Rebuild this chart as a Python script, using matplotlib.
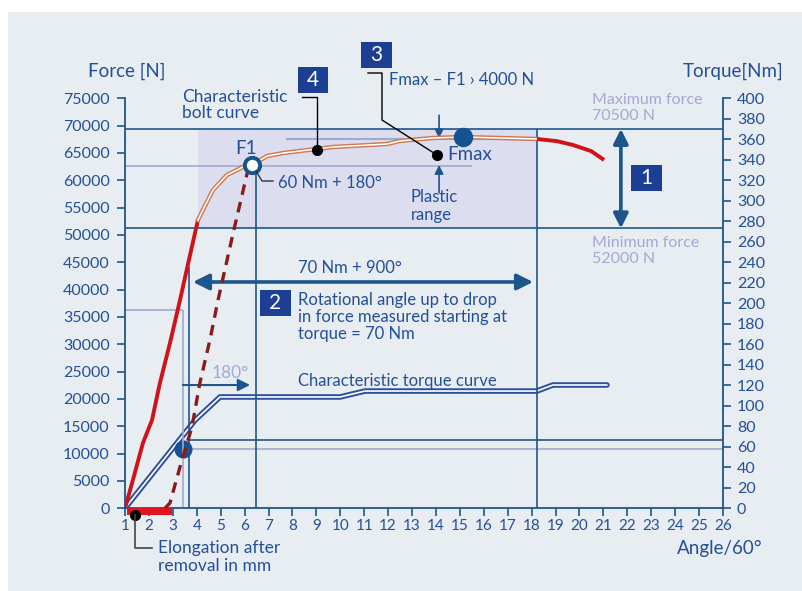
import matplotlib
matplotlib.use("Agg")
import matplotlib.pyplot as plt
from matplotlib.patches import Rectangle
from matplotlib.lines import Line2D
from matplotlib.transforms import Affine2D

W, H = 803, 591

# bolt force curve (angle in units of 60 deg, force in N)
bolt_angle = [1.0, 1.33, 1.75, 2.13, 2.46, 2.88, 3.30, 3.72, 4.05, 4.26, 4.68, 5.26, 5.93,
              6.31, 6.94, 7.61, 9.70, 11.95, 12.5, 13.88, 15.13, 18.22, 19.06, 19.73, 20.48, 21.03]
bolt_force = [0, 5180, 11950, 16150, 22920, 30230, 38100, 46360, 52730, 54600, 58220, 60960, 62430,
              62800, 64440, 64990, 66090, 66640, 67200, 67740, 67920, 67560, 67160, 66460, 65360, 63720]
elastic_end = 8      # index where the red part ends
plastic_end = 21     # index where the drop starts

# dashed re-loading curve up to F1
dash_angle = [2.67, 2.88, 3.38, 3.80, 4.13, 4.55, 4.89, 5.52, 6.14, 6.31]
dash_force = [0, 970, 8830, 14870, 22920, 30780, 38100, 50350, 61880, 62800]

# characteristic torque curve
torque_angle = [1, 3.93, 4.97, 9.99, 11.03, 18.22, 18.89, 21.15]
torque_nm = [0, 86, 108.6, 108.6, 114.4, 114.4, 120.3, 120.3]

force_max_line = 69400
force_min_line = 51200
f1 = (6.31, 62800)
fmax = (15.13, 67920)
angle_drop = 18.22
angle_70nm = 3.68
angle_60nm = 3.42
torque_70 = 67
torque_60 = 57.6

x_ticks = list(range(1, 27))
force_ticks = list(range(0, 75001, 5000))
torque_ticks = list(range(0, 401, 20))

BLUE = "#234f9b"
LINE = "#1d568c"
BOX = "#1c3f94"
LAV = "#a3a8d6"
GREY = "#9eabcf"
RED = "#d0121b"
DRED = "#8a1b1b"
BG = "#e8edf2"

plt.rcParams["font.family"] = ["Lato", "DejaVu Sans"]

fig = plt.figure(figsize=(W / 100, H / 100), dpi=100)
fig.patch.set_facecolor("white")
PX = Affine2D().scale(1, -1).translate(0, H)   # reference pixel coords -> display
fig.patches.append(Rectangle((8, 12), W - 8, H - 12, transform=PX, facecolor=BG,
                             edgecolor="none", zorder=-10))

ax = fig.add_axes([125 / W, 1 - 508.3 / H, 598 / W, 410 / H])
ax2 = ax.twinx()
ax.set_zorder(ax2.get_zorder() + 1)
ax.patch.set_visible(False)
ax2.patch.set_visible(False)

ax.set_xlim(1, 26)
ax.set_ylim(0, 75000)
ax2.set_ylim(0, 400)

for a in (ax, ax2):
    for s in a.spines.values():
        s.set_color(LINE)
        s.set_linewidth(1.3)
    a.spines["top"].set_visible(False)
ax.spines["right"].set_visible(False)
ax2.spines["left"].set_visible(False)
ax2.spines["bottom"].set_visible(False)

ax.set_xticks(x_ticks)
ax.set_yticks(force_ticks)
ax2.set_yticks(torque_ticks)
ax.tick_params(axis="x", colors=LINE, labelcolor=BLUE, labelsize=11, length=6, width=1.2, pad=2)
ax.tick_params(axis="y", colors=LINE, labelcolor=BLUE, labelsize=11.5, length=6, width=1.2, pad=5)
ax2.tick_params(axis="y", colors=LINE, labelcolor=BLUE, labelsize=11.5, length=6, width=1.2, pad=4)

# shaded plastic region and reference lines
ax.add_patch(Rectangle((bolt_angle[elastic_end], force_min_line), angle_drop - bolt_angle[elastic_end],
                       force_max_line - force_min_line, facecolor="#dcdeef", edgecolor="none", zorder=0))
ax.hlines([force_max_line, force_min_line], 1, 26, color=LINE, lw=1.2, zorder=1)
ax.vlines(angle_drop, 0, force_max_line, color=LINE, lw=1.2, zorder=1)
ax.vlines(f1[0] + 0.17, 0, f1[1], color=LINE, lw=1.2, zorder=1)
ax.vlines(angle_70nm, 0, 44190, color=LINE, lw=1.2, zorder=1)
ax.vlines(angle_60nm, 0, 36270, color=GREY, lw=1.2, zorder=1)
ax.hlines(36270, 1, angle_60nm, color=GREY, lw=1.2, zorder=1)
ax.hlines(62670, 1, 15.5, color=GREY, lw=1.2, zorder=1)
ax.hlines(67540, 7.73, angle_drop, color=GREY, lw=1.5, zorder=1)
ax2.hlines(torque_70, angle_70nm, 26, color=LINE, lw=1.2)
ax2.hlines(torque_60, angle_60nm, 26, color=GREY, lw=1.2)

# torque curve (double line)
ax2.plot(torque_angle, torque_nm, color="#2d4f9e", lw=4.0, solid_capstyle="round", solid_joinstyle="miter")
ax2.plot(torque_angle, torque_nm, color="white", lw=1.2, solid_capstyle="round", solid_joinstyle="miter")
ax2.plot(angle_60nm, torque_60, "o", ms=13, color="#15528e", mec="none")

# bolt curve
ax.plot(bolt_angle[:elastic_end + 1], bolt_force[:elastic_end + 1], color=RED, lw=2.8, zorder=4,
        solid_capstyle="butt")
ax.plot(bolt_angle[elastic_end:plastic_end + 1], bolt_force[elastic_end:plastic_end + 1],
        color="#d07a52", lw=3.2, zorder=4)
ax.plot(bolt_angle[elastic_end:plastic_end + 1], bolt_force[elastic_end:plastic_end + 1],
        color="white", lw=1.1, zorder=4)
ax.plot(bolt_angle[plastic_end:], bolt_force[plastic_end:], color=RED, lw=2.8, zorder=4,
        solid_capstyle="butt")
ax.plot(dash_angle, dash_force, color=DRED, lw=2.4, dashes=(3.2, 2.2), zorder=5)

ax.plot(*fmax, "o", ms=14, color="#15528e", mec="none", zorder=6)
ax.plot(*f1, "o", ms=11, mfc="white", mec="#15528e", mew=2.8, zorder=7)

# elongation bar below axis
ax.add_patch(Rectangle((1.08, -1250), 1.88, 1250, facecolor="#e0141e", edgecolor="none",
                       clip_on=False, zorder=6))

# arrows
ax.annotate("", xy=(3.84, 41400), xytext=(18.06, 41400),
            arrowprops=dict(arrowstyle="<|-|>", color=LINE, lw=2.6, mutation_scale=24,
                            shrinkA=0, shrinkB=0))
ax.annotate("", xy=(21.73, force_max_line), xytext=(21.73, force_min_line),
            arrowprops=dict(arrowstyle="<|-|>", color=LINE, lw=2.6, mutation_scale=22,
                            shrinkA=0, shrinkB=0))
ax.annotate("", xy=(6.23, 22550), xytext=(angle_60nm, 22550),
            arrowprops=dict(arrowstyle="-|>", color=LINE, lw=1.5, mutation_scale=18,
                            shrinkA=0, shrinkB=0))
ax.annotate("", xy=(14.13, 67700), xytext=(14.13, 71900),
            arrowprops=dict(arrowstyle="-|>", color=LINE, lw=1.2, mutation_scale=13,
                            shrinkA=0, shrinkB=0), annotation_clip=False)
ax.annotate("", xy=(14.13, 62800), xytext=(14.13, 57700),
            arrowprops=dict(arrowstyle="-|>", color=LINE, lw=1.2, mutation_scale=13,
                            shrinkA=0, shrinkB=0))

# leader lines (reference pixel coords)
def leader(xs, ys, color="black", lw=1.0):
    fig.lines.append(Line2D(xs, ys, transform=PX, color=color, lw=lw, zorder=8))

leader([302, 317, 317], [97, 97, 150])
leader([368, 382, 382, 437], [73, 73, 120, 155])
leader([135, 135, 152], [515, 548, 548], color="#444444", lw=1.2)
leader([256, 262, 273], [171, 181, 181], color="#333333", lw=1.0)
ax.plot(9.03, 65530, "o", ms=7, color="black", zorder=9)
ax.plot(14.04, 64620, "o", ms=7, color="black", zorder=9)
ax.plot(1.42, -1230, "o", ms=7, color="black", zorder=9, clip_on=False)

# numbered boxes
def numbox(x0, y0, x1, y1, label):
    fig.patches.append(Rectangle((x0, y0), x1 - x0, y1 - y0, transform=PX, facecolor=BOX,
                                 edgecolor="none", zorder=9))
    fig.text((x0 + x1) / 2 / W, 1 - (y0 + y1) / 2 / H, label, color="white", fontsize=15,
             ha="center", va="center", zorder=10)

numbox(298, 67, 328, 93, "4")
numbox(361, 42, 392, 68, "3")
numbox(260, 290, 291, 316, "2")
numbox(631, 165, 662, 191, "1")

def label(x, y, s, color=BLUE, size=12, ha="left", **kw):
    fig.text(x / W, 1 - y / H, s, color=color, fontsize=size, ha=ha, va="center", **kw)

label(88, 71, "Force [N]", size=13.5)
label(683, 71, "Torque[Nm]", size=13.5)
label(677, 548, "Angle/60°", size=13.5)
label(182, 105, "Characteristic\nbolt curve", size=12.5, linespacing=1.05)
label(389, 80, "Fmax – F1 › 4000 N")
label(592, 108, "Maximum force\n70500 N", color=LAV, size=11.5, linespacing=1.15)
label(592, 251, "Minimum force\n52000 N", color=LAV, size=11.5, linespacing=1.15)
label(235, 149, "F1", size=13.5)
label(447, 155, "Fmax", size=13.5)
label(278, 183, "60 Nm + 180°")
label(411, 206, "Plastic\nrange", linespacing=1.1)
label(298, 268, "70 Nm + 900°")
label(298, 317, "Rotational angle up to drop\nin force measured starting at\ntorque = 70 Nm", linespacing=1.1)
label(212, 373, "180°", color=LAV, size=12.5)
label(298, 381, "Characteristic torque curve")
label(158, 557, "Elongation after\nremoval in mm", size=12.5, linespacing=1.1)

fig.savefig("out.png", dpi=100, facecolor=fig.get_facecolor())
